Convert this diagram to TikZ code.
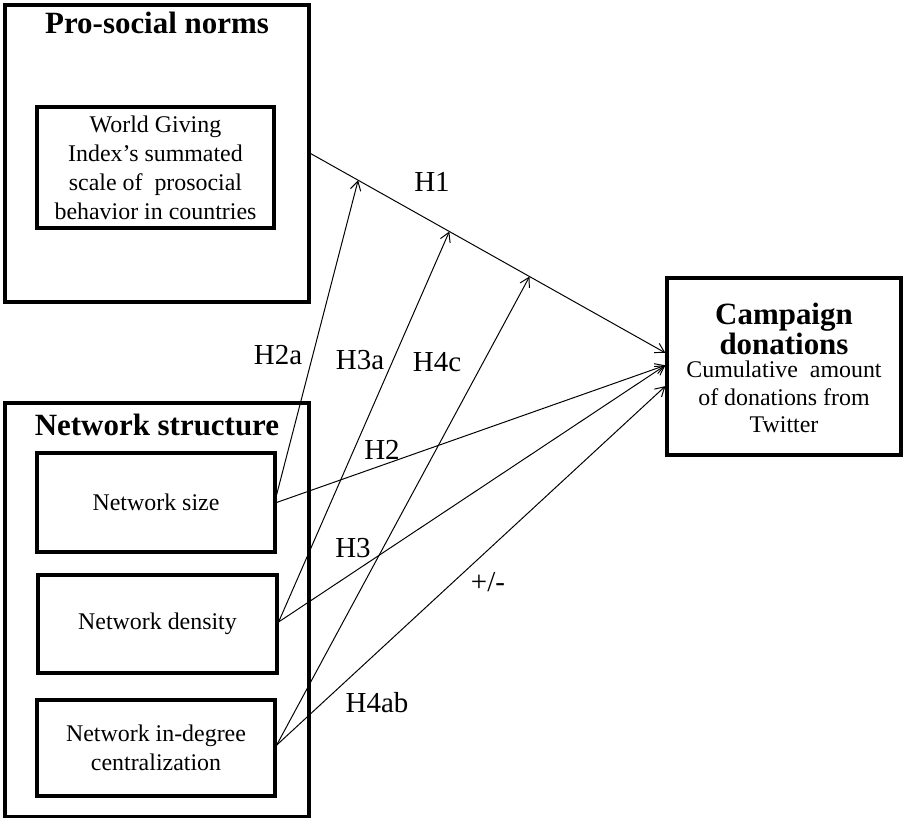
\documentclass[tikz,border=0pt]{standalone}
\usepackage{fontspec}
\setmainfont{Liberation Serif}
\usetikzlibrary{arrows.meta}

\begin{document}
\begin{tikzpicture}[x=0.025cm, y=-0.025cm,
      obox/.style={rectangle, draw, line width=2.2pt, inner sep=0pt},
      ibox/.style={rectangle, draw, line width=2.2pt, inner sep=0pt,
                   align=center, font=\fontsize{17}{20.6}\selectfont},
      ttl/.style={inner sep=0pt, align=center,
                  font=\fontsize{22}{20}\selectfont\bfseries},
      body/.style={inner sep=0pt, align=center,
                   font=\fontsize{17}{19.5}\selectfont},
      hyp/.style={inner sep=1pt, font=\fontsize{20.6}{24}\selectfont},
      arr/.style={-{Straight Barb[length=6.5pt, width=7.5pt]}, line width=0.7pt}
    ]
    \useasboundingbox (0,0) rectangle (904,818);

    % left column: predictors
    \node[obox, minimum width=7.6cm, minimum height=7.425cm]  (norms)   at (157,153.5) {};
    \node[ttl]                                              (normsttl) at (157,23) {Pro-social norms};
    \node[ibox, minimum width=5.925cm, minimum height=3.025cm] (wgi)   at (155.5,167.5)
          {World Giving\\Index's summated\\scale of \ prosocial\\behavior in countries};

    \node[obox, minimum width=7.6cm, minimum height=10.325cm] (struct)  at (157,609.5) {};
    \node[ttl]                                              (structttl) at (157,425) {Network structure};
    \node[ibox, minimum width=5.95cm, minimum height=2.475cm]  (size)    at (156,502.5)
          {Network size};
    \node[ibox, minimum width=5.975cm, minimum height=2.45cm]  (density) at (157.5,624)
          {Network density};
    \node[ibox, minimum width=5.95cm, minimum height=2.4cm]    (indeg)   at (156,748)
          {Network in-degree\\centralization};

    % outcome
    \node[obox, minimum width=5.85cm, minimum height=4.425cm] (camp)    at (784,366.5) {};
    \node[ttl]                                              (campttl) at (784,329) {Campaign\\donations};
    \node[body]                                             (camptxt) at (784,397)
          {Cumulative \ amount\\of donations from\\Twitter};

    \coordinate (t1) at ([yshift=0.34cm]camp.west);
    \coordinate (t2) at ([yshift=0.03cm]camp.west);
    \coordinate (t3) at ([yshift=-0.49cm]camp.west);
    \path (norms.east) -- (t1) coordinate[pos=0.134] (m1)
                               coordinate[pos=0.391] (m2)
                               coordinate[pos=0.617] (m3);

    \draw[arr] (norms.east)               -- (t1);
    \draw[arr] ([yshift=0.19cm]size.east) -- (m1);
    \draw[arr] (size.east)                -- (t2);
    \draw[arr] ([yshift=0.05cm]density.east) -- (m2);
    \draw[arr] ([yshift=0.05cm]density.east) -- (t2);
    \draw[arr] ([yshift=0.07cm]indeg.east)   -- (m3);
    \draw[arr] ([yshift=0.07cm]indeg.east)   -- (t3);

    \foreach \n/\x/\y/\t in {h1/432/182/H1, h2a/278/355/H2a, h3a/360/360/H3a,
                             h4c/437/362/H4c, h2/382/450/H2, h3/353/548/H3,
                             pm/488/582/{+/-}, h4ab/377/703/H4ab}{
      \node[hyp] (\n) at (\x,\y) {\t};
    }
  \end{tikzpicture}
\end{document}
